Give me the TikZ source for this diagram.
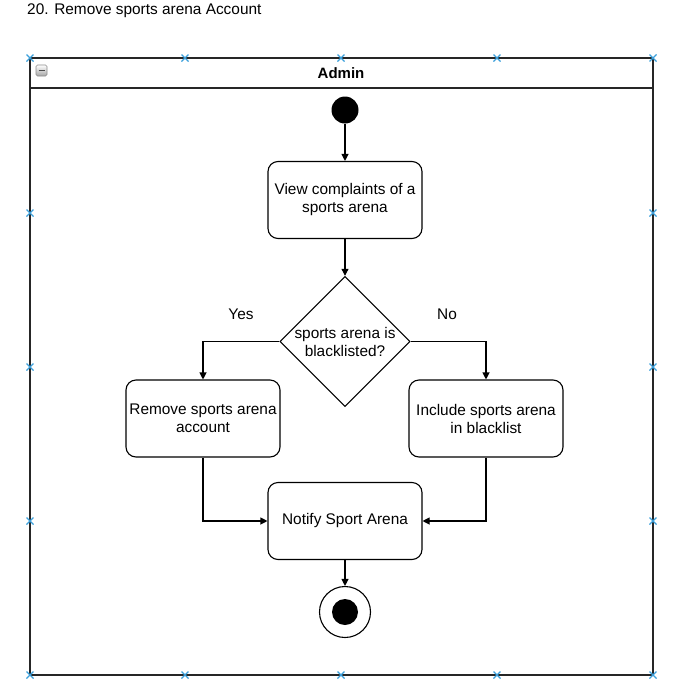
\documentclass[tikz,border=0pt]{standalone}
\usepackage{fontspec}
\setmainfont{Liberation Sans}
\usetikzlibrary{shapes.geometric,arrows.meta}
\definecolor{markblue}{RGB}{60,160,220}
\tikzset{
  x=1pt,y=-1pt,
  every node/.style={font=\fontsize{15.4}{18}\selectfont},
  actbox/.style={draw,line width=1.1pt,rounded corners=10pt,minimum width=154pt,minimum height=77pt,align=center,inner sep=2pt},
  decbox/.style={draw,line width=1.1pt,diamond,minimum width=128pt,minimum height=129pt,align=center,inner sep=0pt,aspect=1},
  flow/.style={line width=1.1pt,-{Triangle[length=7pt,width=7pt]}},
}
\newcommand{\bluex}[2]{\draw[markblue,line width=1.3pt] (#1-3.5,#2-3.5) -- (#1+3.5,#2+3.5) (#1-3.5,#2+3.5) -- (#1+3.5,#2-3.5);}
\begin{document}
\begin{tikzpicture}
\useasboundingbox[fill=white] (0,0) rectangle (689,689);
\node[anchor=west,inner sep=0pt] (title) at (27,11) {20. Remove sports arena Account};
% pool
\draw[line width=1.2pt,draw=black!85] (30,58) rectangle (653,675);
\draw[line width=1.2pt,draw=black!85] (30,88) -- (653,88);
\node[font=\bfseries\fontsize{15}{18}\selectfont] (admin) at (341,73) {Admin};
% minus icon
\shade[top color=white,bottom color=black!35,rounded corners=1.5pt,draw=black!45,line width=0.6pt] (36,65) rectangle (47,76);
\draw[black!70,line width=1.6pt] (38.5,70.5) -- (44.5,70.5);
% blue markers
\foreach \xx in {30,185,341,497,653}{\bluex{\xx}{58}\bluex{\xx}{675}}
\foreach \yy in {213,367,521}{\bluex{30}{\yy}\bluex{653}{\yy}}
% nodes
\node[circle,fill=black,minimum size=27pt,inner sep=0pt] (start) at (345,110) {};
\node[actbox] (view) at (345,200) {View complaints of a\\sports arena};
\node[decbox] (dec) at (345,341.5) {sports arena is\\blacklisted?};
\node[actbox] (remove) at (203,418.5) {Remove sports arena\\account};
\node[actbox] (incl) at (486,418.5) {Include sports arena\\in blacklist};
\node[actbox] (notify) at (345,521) {Notify Sport Arena};
\node[circle,draw,line width=1.1pt,minimum size=51pt,inner sep=0pt] (end) at (345,612) {};
\node[circle,fill=black,minimum size=26pt,inner sep=0pt] (endin) at (end.center) {};
\node (yes) at (241,314) {Yes};
\node (no) at (447,314) {No};
% connectors
\draw[flow] (start) -- (view);
\draw[flow] (view) -- (dec);
\draw[flow] (dec.west) -| (remove.north);
\draw[flow] (dec.east) -| (incl.north);
\draw[flow] (remove.south) |- (notify.west);
\draw[flow] (incl.south) |- (notify.east);
\draw[flow] (notify) -- (end);
\end{tikzpicture}
\end{document}
